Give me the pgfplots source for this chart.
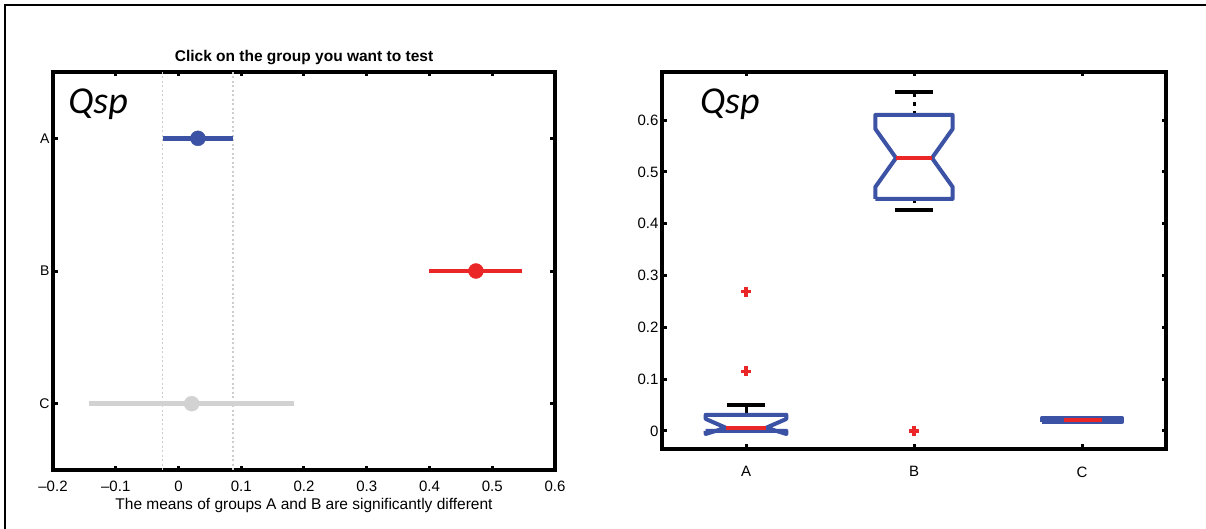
\documentclass[border=0pt]{standalone}
\usepackage{fontspec}
\setmainfont{Liberation Sans}
\newfontfamily\qspfont{Carlito}
\usepackage{pgfplots}
\pgfplotsset{compat=1.18}
\definecolor{mblue}{RGB}{60,82,165}
\definecolor{mred}{RGB}{235,38,38}
\definecolor{mgrey}{RGB}{210,210,210}
\definecolor{dgrey}{RGB}{205,205,205}
\begin{document}
\begin{tikzpicture}
\useasboundingbox (0pt,0pt) rectangle (1206pt,529pt);
\fill[white] (0pt,0pt) rectangle (1206pt,529pt);
\draw[line width=2pt] (5pt,0pt) -- (5pt,524pt) -- (1206pt,524pt);
\pgfplotsset{mystyle/.style={scale only axis,
  axis line style={line width=3.6pt},
  tick style={line width=3pt,black},
  major tick length=4.5pt, tick align=inside,
  ticklabel style={font=\fontsize{15}{17}\selectfont},
}}
% ---------------- left: multiple comparison ----------------
\begin{axis}[mystyle, at={(53pt,59pt)}, anchor=south west,
  width=502pt, height=398pt,
  xmin=-0.2, xmax=0.6, ymin=0.5, ymax=3.5, y dir=reverse,
  xtick={-0.2,-0.1,0,0.1,0.2,0.3,0.4,0.5,0.6},
  xticklabels={–0.2,–0.1,0,0.1,0.2,0.3,0.4,0.5,0.6},
  xticklabel style={yshift=-7pt},
  ytick={1,2,3}, yticklabels={A,B,C},
  yticklabel style={font=\fontsize{14}{16}\selectfont},
  title={Click on the group you want to test},
  title style={at={(0.5,1)}, anchor=center, yshift=8pt, font=\fontsize{15.5}{17}\selectfont\bfseries},
  xlabel={The means of groups A and B are significantly different},
  xlabel style={at={(0.5,0)}, anchor=center, yshift=-35pt, font=\fontsize{15.5}{17}\selectfont},
]
\addplot[dgrey, line width=1.3pt, dash pattern=on 2pt off 2.5pt] coordinates {(-0.025,0.5) (-0.025,3.5)};
\addplot[dgrey, line width=1.3pt, dash pattern=on 2pt off 2.5pt] coordinates {(0.087,0.5) (0.087,3.5)};
% intervals
\addplot[mblue, line width=4.5pt] coordinates {(-0.025,1) (0.087,1)};
\addplot[mred, line width=4.5pt] coordinates {(0.400,2) (0.548,2)};
\addplot[mgrey, line width=4.5pt] coordinates {(-0.142,3) (0.184,3)};
% means
\addplot[only marks, mark=*, mark size=7.5pt, mblue, mark options={fill=mblue, draw=mblue}] coordinates {(0.031,1)};
\addplot[only marks, mark=*, mark size=7.5pt, mred, mark options={fill=mred, draw=mred}] coordinates {(0.474,2)};
\addplot[only marks, mark=*, mark size=7.5pt, mgrey, mark options={fill=mgrey, draw=mgrey}] coordinates {(0.021,3)};
\node[anchor=west, inner sep=0pt, font=\qspfont\itshape\fontsize{38}{40}\selectfont] at (axis description cs:0.03,0.92) {Qsp};
\end{axis}
% ---------------- right: notched boxplot ----------------
\begin{axis}[mystyle, at={(662pt,80pt)}, anchor=south west,
  width=504pt, height=377pt,
  xmin=0.5, xmax=3.5, ymin=-0.035, ymax=0.693,
  xtick={1,2,3}, xticklabels={A,B,C},
  xticklabel style={yshift=-14pt},
  ytick={0,0.1,0.2,0.3,0.4,0.5,0.6},
  yticklabels={0,0.1,0.2,0.3,0.4,0.5,0.6},
]
% whiskers
\addplot[black, line width=3pt, dash pattern=on 4pt off 5pt] coordinates {(2,0.610) (2,0.654)};
\addplot[black, line width=3pt, dash pattern=on 4pt off 5pt] coordinates {(2,0.448) (2,0.427)};
\addplot[black, line width=3pt] coordinates {(1,0.031) (1,0.050)};
% caps
\addplot[black, line width=4pt] coordinates {(1.887,0.654) (2.113,0.654)};
\addplot[black, line width=4pt] coordinates {(1.887,0.427) (2.113,0.427)};
\addplot[black, line width=4pt] coordinates {(0.887,0.050) (1.113,0.050)};
% boxes
\addplot[mblue, line width=4pt, line join=round] coordinates {(0.76,0) (0.76,-0.006) (0.88,0.006) (0.76,0.023) (0.76,0.031) (1.24,0.031) (1.24,0.023) (1.12,0.006) (1.24,-0.006) (1.24,0) (0.76,0)};
\addplot[mblue, line width=4pt, line join=round] coordinates {(1.77,0.448) (1.77,0.471) (1.893,0.527) (1.77,0.583) (1.77,0.610) (2.23,0.610) (2.23,0.583) (2.107,0.527) (2.23,0.471) (2.23,0.448) (1.77,0.448)};
\addplot[mblue, line width=4pt, line join=round, fill=mblue] coordinates {(2.76,0.0180) (3.24,0.0180) (3.24,0.0240) (2.76,0.0240) (2.76,0.0180)};
% medians
\addplot[mred, line width=4pt] coordinates {(0.88,0.006) (1.12,0.006)};
\addplot[mred, line width=4pt] coordinates {(1.893,0.527) (2.107,0.527)};
\addplot[mred, line width=4pt] coordinates {(2.89,0.021) (3.12,0.021)};
% outliers
\addplot[only marks, mark=+, mark size=5pt, mred, mark options={line width=3.5pt}] coordinates {(1,0.269) (1,0.115) (2,0)};
\node[anchor=west, inner sep=0pt, font=\qspfont\itshape\fontsize{38}{40}\selectfont] at (axis description cs:0.075,0.915) {Qsp};
\end{axis}
\end{tikzpicture}
\end{document}
